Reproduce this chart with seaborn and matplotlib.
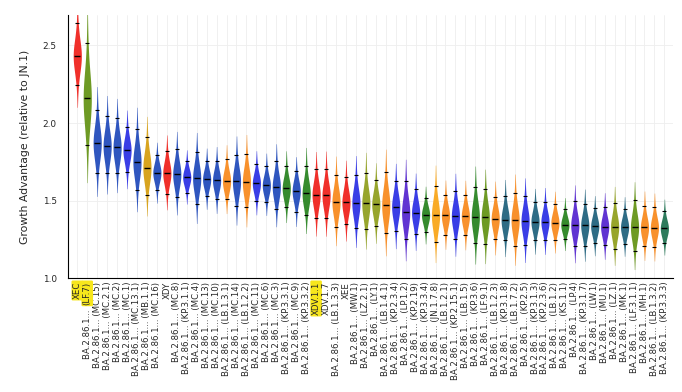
import numpy as np
import pandas as pd
import seaborn as sns
import matplotlib.pyplot as plt

# lineage names as shown on the x axis
lineages = [
    "XEC", "BA.2.86.1... (LF.7)", "BA.2.86.1... (MC.15)", "BA.2.86.1... (MC.2.1)",
    "BA.2.86.1... (MC.2)", "BA.2.86.1... (MC.1)", "BA.2.86.1... (MC.13.1)", "BA.2.86.1... (MB.1.1)",
    "BA.2.86.1... (MC.16)", "XDY", "BA.2.86.1... (MC.8)", "BA.2.86.1... (KP.3.1.1)",
    "BA.2.86.1... (MC.4)", "BA.2.86.1... (MC.13)", "BA.2.86.1... (MC.10)", "BA.2.86.1... (LB.1.3.1)",
    "BA.2.86.1... (MC.14)", "BA.2.86.1... (LB.1.2.2)", "BA.2.86.1... (MC.11)", "BA.2.86.1... (MC.6)",
    "BA.2.86.1... (MC.3)", "BA.2.86.1... (KP.3.3.1)", "BA.2.86.1... (MC.9)", "BA.2.86.1... (KP.3.3.2)",
    "XDV.1.1", "XDV.1.7", "BA.2.86.1... (LB.1.3.3)", "XEE",
    "BA.2.86.1... (MW.1)", "BA.2.86.1... (LZ.2.1)", "BA.2.86.1... (LY.1)", "BA.2.86.1... (LB.1.4.1)",
    "BA.2.86.1... (KP.2.3.4)", "BA.2.86.1... (LP.1.2)", "BA.2.86.1... (KP.2.19)", "BA.2.86.1... (KP.3.3.4)",
    "BA.2.86.1... (JN.1.7.8)", "BA.2.86.1... (LB.1.2.1)", "BA.2.86.1... (KP.2.15.1)", "BA.2.86.1... (LB.1.5)",
    "BA.2.86.1... (KP.3.6)", "BA.2.86.1... (LF.9.1)", "BA.2.86.1... (LB.1.2.3)", "BA.2.86.1... (KP.3.1.8)",
    "BA.2.86.1... (LB.1.7.2)", "BA.2.86.1... (KP.2.5)", "BA.2.86.1... (KP.3.1.3)", "BA.2.86.1... (KP.2.3.6)",
    "BA.2.86.1... (LB.1.2)", "BA.2.86.1... (KS.1.1)", "BA.2.86.1... (LP.4)", "BA.2.86.1... (KP.3.1.7)",
    "BA.2.86.1... (LW.1)", "BA.2.86.1... (MU.1)", "BA.2.86.1... (LZ.1)", "BA.2.86.1... (MK.1)",
    "BA.2.86.1... (LF.3.1.1)", "BA.2.86.1... (MH.1)", "BA.2.86.1... (LB.1.3.2)", "BA.2.86.1... (KP.3.3.3)",
]

median = [
    2.434, 2.160, 1.872, 1.852, 1.844, 1.825, 1.751, 1.713, 1.680, 1.678,
    1.670, 1.651, 1.644, 1.638, 1.631, 1.627, 1.625, 1.620, 1.612, 1.599,
    1.590, 1.580, 1.562, 1.548, 1.539, 1.535, 1.492, 1.490, 1.485, 1.483,
    1.477, 1.472, 1.461, 1.425, 1.423, 1.408, 1.406, 1.405, 1.401, 1.400,
    1.397, 1.393, 1.384, 1.378, 1.374, 1.369, 1.366, 1.365, 1.358, 1.345,
    1.343, 1.341, 1.335, 1.332, 1.331, 1.330, 1.329, 1.328, 1.327, 1.322,
]
upper = [
    2.645, 2.516, 2.086, 2.044, 2.031, 1.977, 1.960, 1.908, 1.794, 1.822,
    1.833, 1.754, 1.816, 1.756, 1.758, 1.767, 1.796, 1.801, 1.735, 1.722,
    1.754, 1.724, 1.689, 1.726, 1.702, 1.704, 1.666, 1.651, 1.666, 1.680,
    1.635, 1.687, 1.625, 1.629, 1.573, 1.515, 1.597, 1.539, 1.564, 1.537,
    1.590, 1.575, 1.526, 1.532, 1.548, 1.532, 1.490, 1.494, 1.477, 1.448,
    1.496, 1.477, 1.451, 1.461, 1.485, 1.445, 1.503, 1.468, 1.457, 1.434,
]
lower = [
    2.247, 1.857, 1.677, 1.677, 1.680, 1.684, 1.571, 1.537, 1.567, 1.543,
    1.522, 1.552, 1.477, 1.528, 1.509, 1.511, 1.464, 1.457, 1.496, 1.490,
    1.445, 1.457, 1.429, 1.406, 1.387, 1.387, 1.332, 1.350, 1.324, 1.320,
    1.335, 1.290, 1.307, 1.251, 1.285, 1.300, 1.234, 1.281, 1.255, 1.278,
    1.225, 1.223, 1.251, 1.245, 1.208, 1.217, 1.245, 1.245, 1.247, 1.251,
    1.206, 1.208, 1.227, 1.213, 1.191, 1.223, 1.176, 1.210, 1.204, 1.226,
]

RED, OLIVE, YOLIVE = "#f0302a", "#6e9a24", "#97a52c"
STEEL, BLUE, GOLD = "#2f56bf", "#3a3ee6", "#d8a41f"
ORANGE, YORANGE, GREEN = "#f8912c", "#f9ab27", "#368b2e"
PURPLE, TEAL, TGREEN = "#6034d2", "#2e6c85", "#2d7b5c"
colours = [
    RED, OLIVE, STEEL, STEEL, STEEL, BLUE, STEEL, GOLD, STEEL, RED,
    STEEL, BLUE, STEEL, STEEL, STEEL, ORANGE, STEEL, ORANGE, BLUE, STEEL,
    STEEL, GREEN, STEEL, GREEN, RED, RED, ORANGE, RED, BLUE, YOLIVE,
    YOLIVE, ORANGE, BLUE, PURPLE, BLUE, GREEN, YORANGE, ORANGE, BLUE, ORANGE,
    GREEN, OLIVE, ORANGE, TEAL, ORANGE, BLUE, TEAL, BLUE, ORANGE, GREEN,
    PURPLE, TEAL, TEAL, PURPLE, YOLIVE, TEAL, OLIVE, ORANGE, ORANGE, TGREEN,
]
highlight = ["XEC", "XDV.1.1"]
HL = "#f7e61c"

# long table: interval ends plus a heavily weighted median for the KDE
rows = []
for name, lo, m, hi in zip(lineages, lower, median, upper):
    for v in [lo] + [m] * 8 + [hi]:
        rows.append((name, v))
df = pd.DataFrame(rows, columns=["lineage", "advantage"])

sns.set_style("whitegrid")
plt.rcParams['font.family'] = ['DejaVu Sans']
fig = plt.figure(figsize=(6.82, 3.92), dpi=100)
ax = fig.add_axes([0.0993, 0.29, 0.888, 0.672])

sns.violinplot(data=df, x="lineage", y="advantage", hue="lineage", order=lineages,
               hue_order=lineages, palette=colours, inner=None, linewidth=0,
               width=0.82, density_norm="width", bw_adjust=1.75, cut=1.4,
               saturation=1, legend=False, ax=ax)

pos = np.arange(len(lineages))
ax.scatter(pos, median, marker="_", s=22, color="black", linewidths=1.0, zorder=4)
ax.scatter(pos, upper, marker="_", s=9, color="black", linewidths=0.8, zorder=4)
ax.scatter(pos, lower, marker="_", s=9, color="black", linewidths=0.8, zorder=4)

ax.set_xlim(-0.96, 59.9)
ax.set_ylim(1.0, 2.697)
ax.set_yticks([1.0, 1.5, 2.0, 2.5])
ax.set_yticklabels(["1.0", "1.5", "2.0", "2.5"])
ax.set_xlabel("")
ax.set_ylabel("Growth Advantage (relative to JN.1)", fontsize=7.8, labelpad=9)
ax.set_xticks(pos)
ticktexts = [t if i != 1 else "" for i, t in enumerate(lineages)]
ax.set_xticklabels(ticktexts, rotation=90, fontsize=6.2)
ax.tick_params(axis="both", direction="in", length=3, width=0.6, color="black", pad=2.5)
ax.tick_params(axis="y", labelsize=6.4, pad=8)

ax.xaxis.grid(True, color="#eeeeee", linewidth=0.6)
ax.yaxis.grid(True, color="#eeeeee", linewidth=0.6)
ax.set_axisbelow(True)
for side in ["top", "right"]:
    ax.spines[side].set_visible(False)
for side in ["left", "bottom"]:
    ax.spines[side].set_color("black")
    ax.spines[side].set_linewidth(0.8)

for lab in ax.get_xticklabels():
    if lab.get_text() in highlight:
        lab.set_bbox(dict(boxstyle="round,pad=0.15", facecolor=HL, edgecolor="none"))

# LF.7 label: only the sublineage part is marked, drawn in two pieces
part = ax.annotate("(LF.7)", xy=(1, 0), xycoords=("data", "axes fraction"),
                   xytext=(0, -2.5), textcoords="offset points", rotation=90,
                   ha="center", va="top", fontsize=6.2,
                   bbox=dict(boxstyle="round,pad=0.15", facecolor=HL, edgecolor="none"),
                   annotation_clip=False)
ax.annotate("BA.2.86.1... ", xy=(0.5, 0), xycoords=part, xytext=(0, -1),
            textcoords="offset points", rotation=90, ha="center", va="top",
            fontsize=6.2, annotation_clip=False)

fig.savefig("out.png", dpi=100)
